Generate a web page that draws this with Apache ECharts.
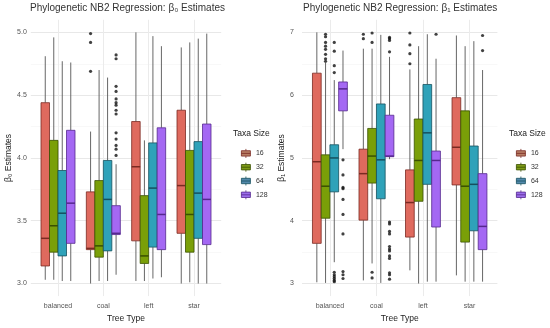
<!DOCTYPE html>
<html>
<head>
<meta charset="utf-8">
<script src="https://cdn.jsdelivr.net/npm/echarts@6/dist/echarts.min.js"></script>
<style>
html,body{margin:0;padding:0;background:#fff;}
#chart{width:550px;height:328px;}
</style>
</head>
<body>
<div id="chart"></div>
<script>
// ---- data ----
const categories = ['balanced', 'coal', 'left', 'star'];
const taxaSizes = ['16', '32', '64', '128'];

// beta0 stats per taxa size: [whiskerLow, Q1, median, Q3, whiskerHigh] per category
const b0_16  = [[3.03, 3.14, 3.36, 4.44, 4.81], [3.00, 3.27, 3.28, 3.73, 4.21], [3.02, 3.34, 3.93, 4.29, 5.00], [3.00, 3.40, 3.78, 4.38, 4.88]];
const b0_32  = [[3.03, 3.25, 3.46, 4.14, 4.96], [3.02, 3.21, 3.30, 3.82, 4.70], [3.02, 3.16, 3.22, 3.70, 4.14], [3.01, 3.25, 3.55, 4.06, 4.92]];
const b0_64  = [[3.02, 3.22, 3.56, 3.90, 4.77], [3.02, 3.26, 3.67, 3.98, 4.64], [3.04, 3.29, 3.76, 4.12, 4.97], [3.00, 3.36, 3.72, 4.13, 4.95]];
const b0_128 = [[3.02, 3.32, 3.64, 4.22, 4.76], [3.07, 3.39, 3.40, 3.62, 3.95], [3.05, 3.27, 3.55, 4.24, 4.89], [3.00, 3.31, 3.67, 4.27, 4.99]];
// beta0 outliers: per category
const b0_out_16  = [[], [4.99, 4.92, 4.69], [], []];
const b0_out_32  = [[], [], [], []];
const b0_out_64  = [[], [], [], []];
const b0_out_128 = [[], [4.82, 4.79, 4.57, 4.53, 4.47, 4.44, 4.42, 4.38, 4.35, 4.20, 4.15, 4.10, 4.07, 4.02], [], []];

// beta1 stats
const b1_16  = [[3.02, 3.64, 4.94, 6.35, 7.00], [3.05, 4.01, 4.75, 5.14, 6.74], [3.21, 3.74, 4.29, 4.81, 6.41], [3.13, 4.57, 5.17, 5.96, 6.95]];
const b1_32  = [[3.01, 4.04, 4.55, 5.05, 6.52], [3.32, 4.60, 5.03, 5.47, 6.74], [3.00, 4.31, 4.96, 5.62, 6.78], [3.03, 3.66, 4.55, 5.75, 6.78]];
const b1_64  = [[3.34, 4.46, 5.00, 5.21, 6.24], [3.01, 4.35, 4.97, 5.86, 6.96], [3.03, 4.58, 5.40, 6.17, 6.97], [3.03, 3.84, 4.58, 5.19, 6.86]];
const b1_128 = [[5.14, 5.75, 6.10, 6.21, 6.71], [4.98, 5.02, 5.03, 5.68, 6.61], [3.03, 3.90, 4.96, 5.11, 6.58], [3.03, 3.54, 3.91, 4.75, 6.40]];
const b1_out_16  = [[], [6.97, 6.90], [6.99, 6.80, 6.66, 6.50], []];
const b1_out_32  = [[6.97, 6.93, 6.84, 6.78, 6.73, 6.65, 6.58, 6.54], [6.99, 6.84, 3.18, 3.09], [], []];
const b1_out_64  = [[6.84, 6.70, 6.47, 6.36, 3.18, 3.14, 3.11, 3.08, 3.05, 3.03], [], [], []];
const b1_out_128 = [[4.97, 4.73, 4.53, 4.51, 4.34, 4.10, 3.79, 3.19, 3.14, 3.08], [6.92, 6.90, 6.87, 6.69, 3.98, 3.95, 3.83, 3.79, 3.59, 3.55, 3.52, 3.44, 3.40, 3.17, 3.14, 3.07], [6.97], [6.95, 6.71]];

// ---- styles ----
const FILL = ['#DF6A5E', '#7A9F08', '#2FA2B9', '#A468F3'];
const EDGE = ['#7a2a22', '#3a5000', '#16505e', '#55288e'];
const LEGEND_FILL = ['#B67C63', '#7D9A16', '#5389AC', '#9B6DEB'];
const DODGE = 0.75;
const BOXW = DODGE / 4;
const OFFS = [0, 1, 2, 3].map(i => (i - 1.5) * BOXW);

const statsB0 = [b0_16, b0_32, b0_64, b0_128];
const outB0 = [b0_out_16, b0_out_32, b0_out_64, b0_out_128];
const statsB1 = [b1_16, b1_32, b1_64, b1_128];
const outB1 = [b1_out_16, b1_out_32, b1_out_64, b1_out_128];

function boxRender(gi) {
  return function (params, api) {
    const x = api.value(0) + OFFS[gi];
    const low = api.coord([x, api.value(1)]);
    const q1 = api.coord([x, api.value(2)]);
    const med = api.coord([x, api.value(3)]);
    const q3 = api.coord([x, api.value(4)]);
    const high = api.coord([x, api.value(5)]);
    const w = api.size([BOXW, 0])[0];
    const cx = q1[0];
    return {
      type: 'group',
      children: [
        { type: 'line', shape: { x1: cx, y1: high[1], x2: cx, y2: q3[1] }, style: { stroke: '#555', lineWidth: 0.9 } },
        { type: 'line', shape: { x1: cx, y1: q1[1], x2: cx, y2: low[1] }, style: { stroke: '#555', lineWidth: 0.9 } },
        { type: 'rect', shape: { x: cx - w / 2, y: q3[1], width: w, height: q1[1] - q3[1] }, style: { fill: FILL[gi], stroke: EDGE[gi], lineWidth: 0.8 } },
        { type: 'line', shape: { x1: cx - w / 2, y1: med[1], x2: cx + w / 2, y2: med[1] }, style: { stroke: EDGE[gi], lineWidth: 1.5 } }
      ]
    };
  };
}

const series = [];
function addPanel(stats, outs, axisIdx) {
  stats.forEach((s, gi) => {
    series.push({
      type: 'custom', name: taxaSizes[gi], xAxisIndex: axisIdx, yAxisIndex: axisIdx,
      itemStyle: { color: FILL[gi] },
      renderItem: boxRender(gi),
      encode: { x: 0, y: [1, 2, 3, 4, 5] },
      data: s.map((row, ci) => [ci + 1].concat(row)),
      z: 2
    });
  });
  outs.forEach((o, gi) => {
    const pts = [];
    o.forEach((vals, ci) => vals.forEach(v => pts.push([ci + 1 + OFFS[gi], v])));
    series.push({
      type: 'scatter', xAxisIndex: axisIdx, yAxisIndex: axisIdx,
      symbolSize: 3.2, itemStyle: { color: '#111' }, data: pts, z: 3, silent: true
    });
  });
}
addPanel(statsB0, outB0, 0);
addPanel(statsB1, outB1, 1);

const FONT = 'Liberation Sans, Arial, sans-serif';

function xAxis(gridIndex) {
  return {
    type: 'value', gridIndex, min: 0.4, max: 4.6,
    axisLine: { show: false }, axisTick: { show: false },
    axisLabel: {
      color: '#555', fontSize: 7, fontFamily: FONT, margin: 6,
      formatter: v => (Number.isInteger(v) && categories[v - 1]) ? categories[v - 1] : '',
      showMinLabel: false, showMaxLabel: false
    },
    splitLine: { show: true, showMinLine: false, showMaxLine: false, lineStyle: { color: '#ebebeb', width: 1 } },
    name: 'Tree Type', nameLocation: 'middle', nameGap: 14,
    nameTextStyle: { color: '#222', fontSize: 8.5, fontFamily: FONT }
  };
}
function yAxis(gridIndex, min, max, name, gap, margin, digits) {
  return {
    type: 'value', gridIndex, min, max,
    axisLine: { show: false }, axisTick: { show: false },
    axisLabel: { color: '#555', fontSize: 7, fontFamily: FONT, margin, showMinLabel: false, showMaxLabel: false,
      formatter: v => v.toFixed(digits) },
    splitLine: { show: true, showMinLine: false, showMaxLine: false, lineStyle: { color: '#e8e8e8', width: 1 } },
    minorTick: { show: false, splitNumber: 2 },
    minorSplitLine: { show: true, lineStyle: { color: '#f3f3f3', width: 0.6 } },
    name, nameLocation: 'middle', nameGap: gap,
    nameTextStyle: { color: '#222', fontSize: 8.5, fontFamily: FONT }
  };
}

function legend(left) {
  return {
    orient: 'vertical', left, top: 143.5,
    itemWidth: 10, itemHeight: 9, itemGap: 4,
    icon: 'path://M0,2h10v6h-10z M0,5h10 M5,0v2 M5,8v2',
    textStyle: { color: '#333', fontSize: 7, fontFamily: FONT },
    data: taxaSizes.map((n, i) => ({ name: n, itemStyle: { color: LEGEND_FILL[i], borderColor: EDGE[i], borderWidth: 0.8 } })),
    selectedMode: false
  };
}

const option = {
  animation: false,
  backgroundColor: '#fff',
  title: [
    { text: 'Phylogenetic NB2 Regression: β₀ Estimates', left: 30, top: 3.5, padding: 0, textStyle: { color: '#333', fontSize: 10, fontWeight: 'normal', fontFamily: FONT } },
    { text: 'Phylogenetic NB2 Regression: β₁ Estimates', left: 303, top: 3.5, padding: 0, textStyle: { color: '#333', fontSize: 10, fontWeight: 'normal', fontFamily: FONT } },
    { text: 'Taxa Size', left: 233, top: 129.5, padding: 0, textStyle: { color: '#222', fontSize: 8.5, fontWeight: 'normal', fontFamily: FONT } },
    { text: 'Taxa Size', left: 509, top: 129.5, padding: 0, textStyle: { color: '#222', fontSize: 8.5, fontWeight: 'normal', fontFamily: FONT } }
  ],
  legend: [legend(236), legend(511)],
  grid: [
    { left: 30.8, top: 19.8, width: 190.4, height: 284.1 },
    { left: 302, top: 19.8, width: 195.4, height: 284.1 }
  ],
  xAxis: [xAxis(0), xAxis(1)],
  yAxis: [yAxis(0, 2.9, 5.1, 'β₀ Estimates', 16, 4, 1), yAxis(1, 2.8, 7.2, 'β₁ Estimates', 12, 8, 0)],
  series
};

const chart = echarts.init(document.getElementById('chart'), null, { renderer: 'canvas' });
chart.setOption(option);
</script>
</body>
</html>
